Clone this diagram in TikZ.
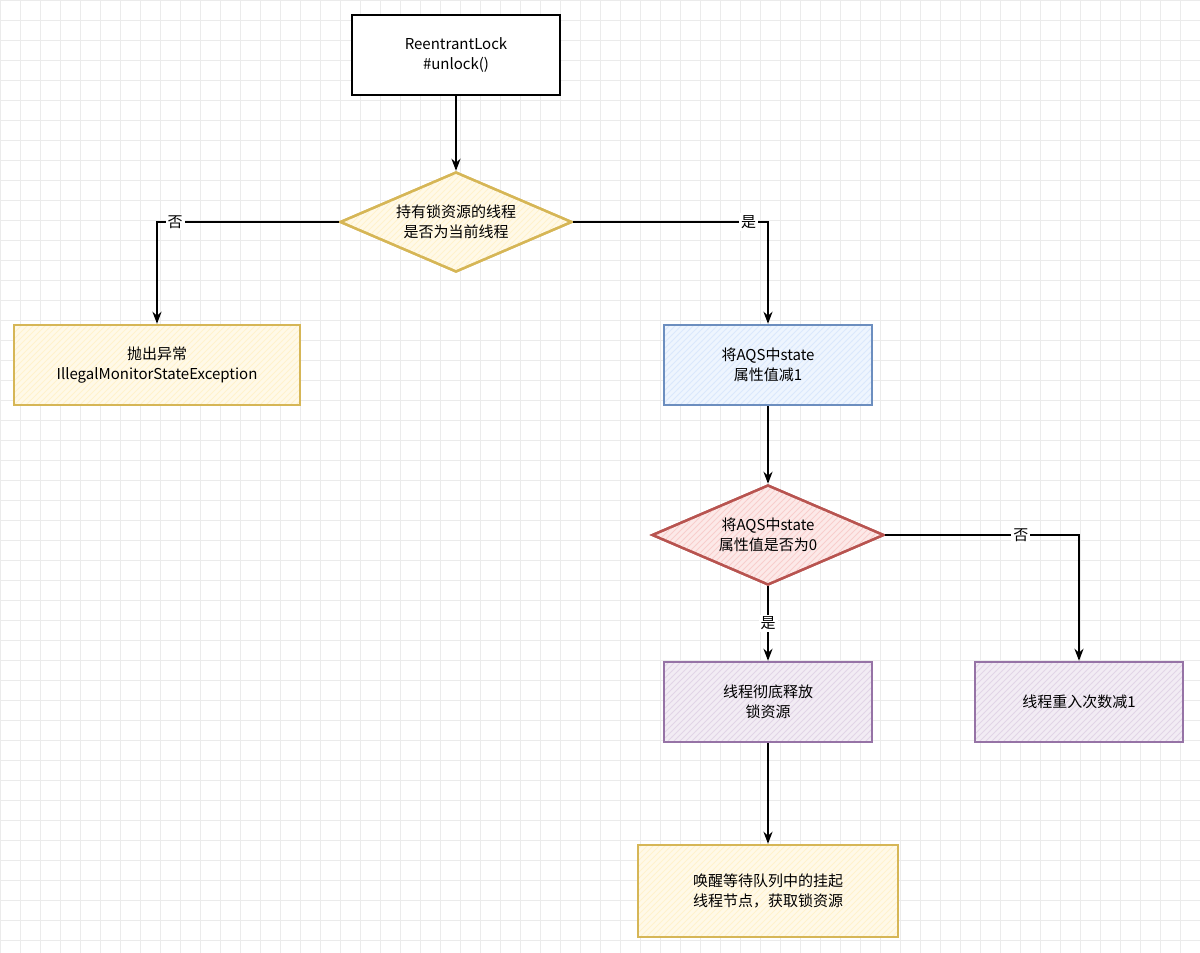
\documentclass[tikz,border=0pt]{standalone}
\usepackage{fontspec}
\setmainfont{Noto Sans CJK SC}
\usetikzlibrary{shapes.geometric,patterns,arrows.meta}

\definecolor{ylwline}{HTML}{D6B656}
\definecolor{ylwfill}{HTML}{FFF2CC}
\definecolor{blueline}{HTML}{6C8EBF}
\definecolor{bluefill}{HTML}{DAE8FC}
\definecolor{redline}{HTML}{B85450}
\definecolor{redfill}{HTML}{F8CECC}
\definecolor{purpline}{HTML}{9673A6}
\definecolor{purpfill}{HTML}{E1D5E7}

\begin{document}
\begin{tikzpicture}[x=0.5pt,y=-0.5pt,
    every node/.style={font=\fontsize{7.5}{10}\selectfont,align=center},
    box/.style={rectangle,draw,line width=1.2pt,minimum width=104pt,minimum height=40pt},
    decide/.style={diamond,draw,line width=1.2pt,aspect=2.32,minimum width=116pt,minimum height=50pt,inner sep=0pt},
    hatch/.style={fill=#1!45,postaction={pattern=north east lines,pattern color=#1},postaction={draw}},
    flow/.style={line width=1.2pt,-{Stealth[length=6pt]}},
    lbl/.style={fill=white,inner sep=1pt}]
    \useasboundingbox (0,0) rectangle (1200,953);
    % grid
    \fill[white] (0,0) rectangle (1200,953);
    \foreach \x in {0,20,...,1200}
    \draw[line width=0.3pt,black!8] (\x,0) -- (\x,953);
    \foreach \y in {0,20,...,940}
    \draw[line width=0.3pt,black!8] (0,\y) -- (1200,\y);

    \node[box,fill=white] (start) at (456,55) {ReentrantLock\\\#unlock()};
    \node[decide,draw=ylwline,hatch=ylwfill] (owner) at (456,222) {持有锁资源的线程\\是否为当前线程};
    \node[box,draw=ylwline,hatch=ylwfill,minimum width=143pt] (throw) at (157,365) {抛出异常\\IllegalMonitorStateException};
    \node[box,draw=blueline,hatch=bluefill] (minus) at (768,365) {将AQS中state\\属性值减1};
    \node[decide,draw=redline,hatch=redfill] (zero) at (768,535) {将AQS中state\\属性值是否为0};
    \node[box,draw=purpline,hatch=purpfill] (release) at (768,702) {线程彻底释放\\锁资源};
    \node[box,draw=purpline,hatch=purpfill] (reenter) at (1079,702) {线程重入次数减1};
    \node[box,draw=ylwline,hatch=ylwfill,minimum width=130pt,minimum height=46pt] (wake) at (768,891) {唤醒等待队列中的挂起\\线程节点，获取锁资源};

    \draw[flow] (start) -- (owner);
    \draw[flow] (owner.west) -| node[lbl,pos=0.45] {否} (throw.north);
    \draw[flow] (owner.east) -| node[lbl,pos=0.45] {是} (minus.north);
    \draw[flow] (minus) -- (zero);
    \draw[flow] (zero.east) -| node[lbl,pos=0.35] {否} (reenter.north);
    \draw[flow] (zero) -- node[lbl] {是} (release);
    \draw[flow] (release) -- (wake);
\end{tikzpicture}
\end{document}
